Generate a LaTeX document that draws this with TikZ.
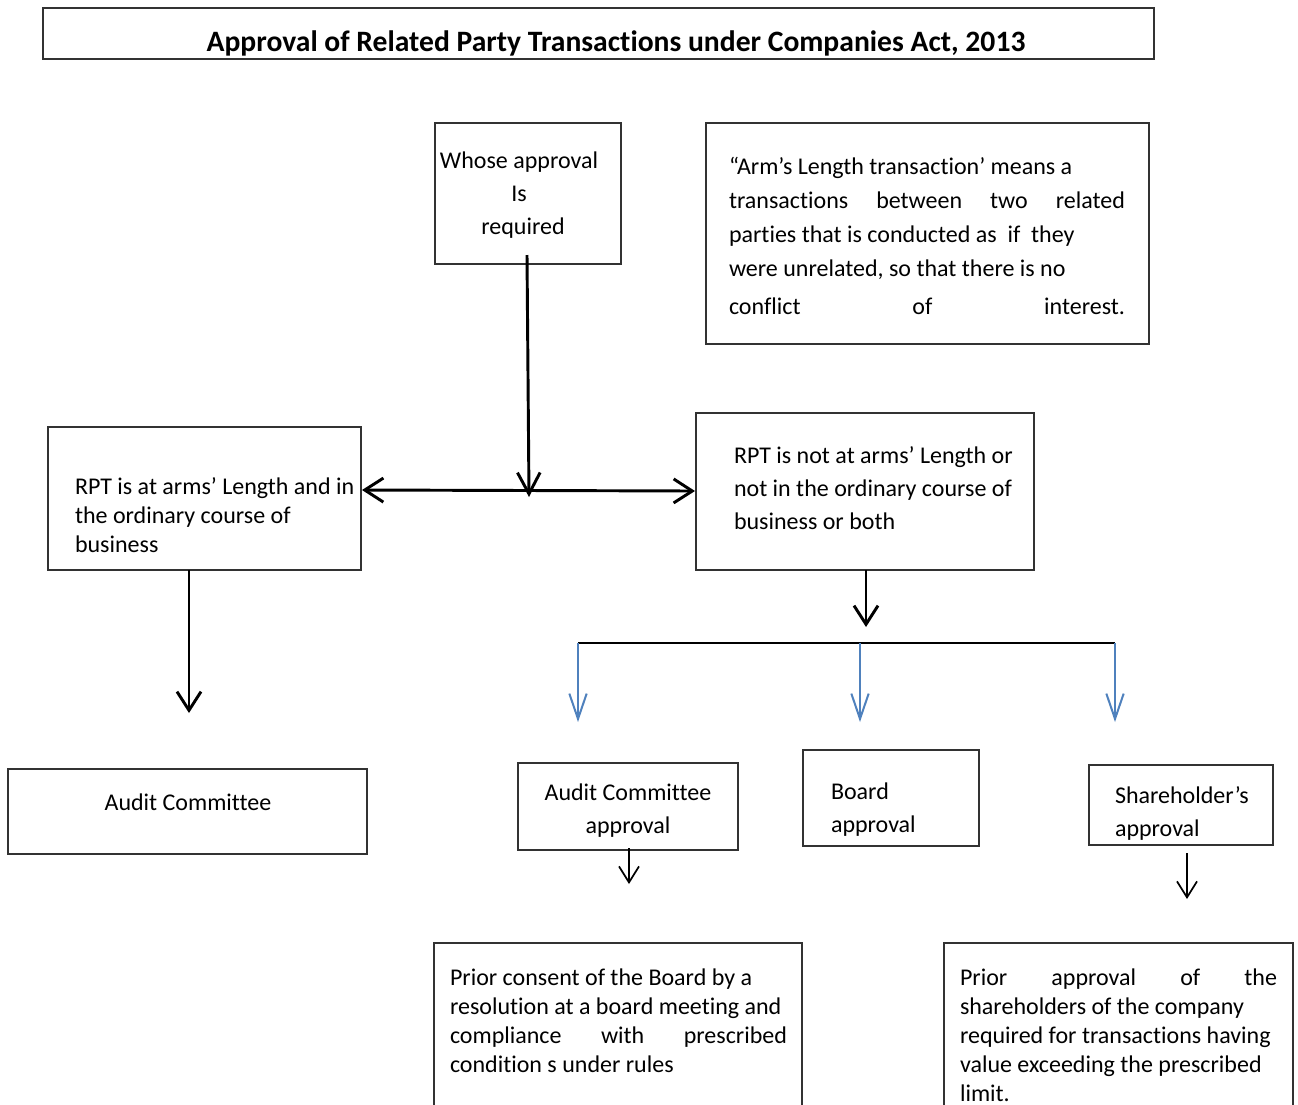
\documentclass[tikz,border=0pt]{standalone}
\usepackage{fontspec}
\setmainfont{Carlito}[Ligatures=CommonOff]
\usetikzlibrary{arrows.meta}
\definecolor{arrowblue}{RGB}{79,129,189}
\definecolor{boxline}{RGB}{50,50,50}
\newcommand{\jline}[2]{\leavevmode\hbox to #1{#2}}
\begin{document}
\begin{tikzpicture}[x=0.75pt,y=-0.75pt,
  box/.style={draw=boxline,line width=0.9pt,inner sep=0pt,outer sep=0pt,anchor=north west},
  thickbox/.style={box,line width=1.4pt},
  txt/.style={inner sep=0pt,outer sep=0pt,anchor=base west,align=flush left},
  ctxt/.style={inner sep=0pt,outer sep=0pt,anchor=base,align=flush center},
  tight/.style={font=\fontsize{18}{21.75}\selectfont},
  loose/.style={font=\fontsize{18}{25}\selectfont},
  blk/.style={line width=2.2pt,-{Straight Barb[length=14pt,width=18pt]}},
  blkthin/.style={line width=1.3pt,-{Straight Barb[length=12pt,width=15pt]}},
  blu/.style={draw=arrowblue,line width=1.5pt,-{Straight Barb[length=19pt,width=13pt]}},
]
\useasboundingbox (0,0) rectangle (1298,1104);
\fill[white] (0,0) rectangle (1298,1104);

% boxes
\node[box,minimum width=833.25pt,minimum height=38.25pt] (title) at (43,8) {};
\node[box,minimum width=139.5pt,minimum height=105.75pt] (whose) at (435,123) {};
\node[box,minimum width=332.25pt,minimum height=165.75pt] (arms) at (706,123) {};
\node[box,minimum width=234.75pt,minimum height=107.25pt] (rptl) at (48,427) {};
\node[box,minimum width=253.5pt,minimum height=117.75pt] (rptr) at (696,413) {};
\node[box,minimum width=269.25pt,minimum height=63.75pt] (ac) at (8,769) {};
\node[box,minimum width=165pt,minimum height=65.25pt] (aca) at (518,763) {};
\node[box,minimum width=132pt,minimum height=72pt] (board) at (803,750) {};
\node[box,minimum width=138pt,minimum height=60pt] (share) at (1089,765) {};
\node[thickbox,minimum width=276pt,minimum height=125.25pt] (pc) at (434,943) {};
\node[thickbox,minimum width=261.75pt,minimum height=125.25pt] (pa) at (944,943) {};

% texts
\node[ctxt,text width=800pt,font=\fontsize{22.2}{25}\selectfont\bfseries] (titletxt) at (616,51) {Approval of Related Party Transactions under Companies Act, 2013};
\node[ctxt,loose,text width=130pt] (whosetxt) at (519,168) {Whose approval\\Is\\\hspace*{6pt}required};
\node[txt,text width=320pt,font=\fontsize{18}{25.5}\selectfont] (armstxt) at (729,174) {%
“Arm’s Length transaction’ means a\\
\jline{297pt}{transactions\hfill between\hfill two\hfill related}\\
parties that is conducted as\ \ if\ \ they\\
were unrelated, so that there is no\\[3pt]
\jline{297pt}{conflict\hfill of\hfill interest.}};
\node[txt,tight,text width=250pt] (rptltxt) at (75,494) {RPT is at arms’ Length and in\\the ordinary course of\\business};
\node[txt,loose,text width=250pt] (rptrtxt) at (734,463) {RPT is not at arms’ Length or\\not in the ordinary course of\\business or both};
\node[ctxt,tight,text width=250pt] (actxt) at (188,810) {Audit Committee};
\node[ctxt,loose,text width=160pt] (acatxt) at (628,800) {Audit Committee\\approval};
\node[txt,loose,text width=120pt] (boardtxt) at (831,799) {Board\\approval};
\node[txt,loose,text width=120pt] (sharetxt) at (1115,803) {Shareholder’s\\approval};
\node[txt,tight,text width=300pt] (pctxt) at (450,985) {%
Prior consent of the Board by a\\
resolution at a board meeting and\\
\jline{252.75pt}{compliance\hfill with\hfill prescribed}\\
condition s under rules};
\node[txt,tight,text width=300pt] (patxt) at (960,985) {%
\jline{237.75pt}{Prior\hfill approval\hfill of\hfill the}\\
shareholders of the company\\
required for transactions having\\
value exceeding the prescribed\\
limit.};

% coordinates for connector ends
\coordinate (w1) at (527,255);
\coordinate (w2) at (529,497);
\coordinate (hl) at (362,490);
\coordinate (hr) at (695,491);
\coordinate (l1) at (189,570);
\coordinate (l2) at (189,713);
\coordinate (r1) at (866,570);
\coordinate (r2) at (866,627);
\coordinate (b0) at (578,643);
\coordinate (b1) at (578,722);
\coordinate (m0) at (860,643);
\coordinate (m1) at (860,722);
\coordinate (c0) at (1115,643);
\coordinate (c1) at (1115,722);
\coordinate (a1) at (629,848);
\coordinate (a2) at (629,884);
\coordinate (s1) at (1187,853);
\coordinate (s2) at (1187,899);

% connectors
\draw[blk,{Straight Barb[length=14pt,width=18pt]}-{Straight Barb[length=14pt,width=18pt]}] (hl) -- (hr);
\draw[blk,-{Straight Barb[length=16pt,width=17pt]}] (w1) -- (w2);
\draw[blk] (l1) -- (l2);
\draw[blk] (r1) -- (r2);
\draw[line width=2.2pt] (b0) -- (c0);
\draw[blu] (b0) -- (b1);
\draw[blu] (m0) -- (m1);
\draw[blu] (c0) -- (c1);
\draw[blkthin] (a1) -- (a2);
\draw[blkthin] (s1) -- (s2);
\end{tikzpicture}
\end{document}
